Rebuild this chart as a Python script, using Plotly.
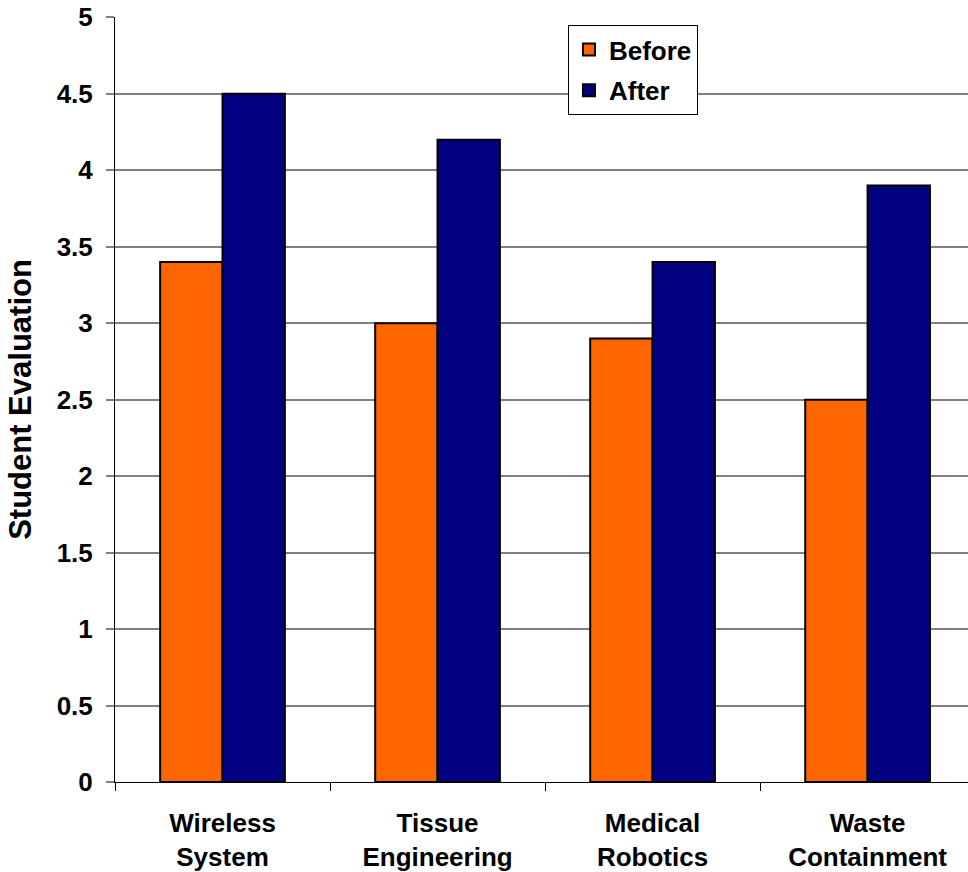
import plotly.graph_objects as go

categories = ["Wireless<br>System", "Tissue<br>Engineering", "Medical<br>Robotics", "Waste<br>Containment"]
before = [3.4, 3.0, 2.9, 2.5]
after = [4.5, 4.2, 3.4, 3.9]
y_ticks = [0, 0.5, 1, 1.5, 2, 2.5, 3, 3.5, 4, 4.5, 5]
y_tick_text = ["0", "0.5", "1", "1.5", "2", "2.5", "3", "3.5", "4", "4.5", "5"]

FONT = "Liberation Sans, Arial, sans-serif"

fig = go.Figure()
fig.add_trace(go.Bar(x=categories, y=before, name="<b>Before</b>", legendgroup="a",
                     marker=dict(color="#FF6600", line=dict(color="black", width=2))))
fig.add_trace(go.Bar(x=categories, y=after, name="<b>After</b>", legendgroup="b",
                     marker=dict(color="#000080", line=dict(color="black", width=2))))

fig.update_layout(
    width=968, height=872,
    margin=dict(l=115, r=0, t=17, b=90),
    paper_bgcolor="white", plot_bgcolor="white",
    font=dict(family=FONT, size=26, color="black"),
    barmode="group", bargap=0.42, bargroupgap=0,
    showlegend=True,
    legend=dict(x=0.531, y=0.9895, xanchor="left", yanchor="top",
                bordercolor="black", borderwidth=1, bgcolor="white",
                font=dict(family=FONT, size=26, color="black"),
                tracegroupgap=4, itemwidth=30),
    xaxis=dict(range=[-0.5, 3.467], showline=True, linecolor="black", linewidth=1,
               ticks="outside", tickson="boundaries", ticklen=8, tickcolor="black",
               tickfont=dict(family=FONT, size=26, color="black"),
               ticklabelstandoff=18, showgrid=False, zeroline=False, automargin=False),
    yaxis=dict(range=[0, 5.002], tickvals=y_ticks, ticktext=["<b>%s</b>" % t for t in y_tick_text],
               showline=True, linecolor="black", linewidth=1,
               ticks="outside", ticklen=8, tickcolor="#808080", tickwidth=2,
               showgrid=True, gridcolor="#808080", gridwidth=2, zeroline=False,
               tickfont=dict(family=FONT, size=26, color="black"), automargin=False,
               ticklabelstandoff=8,
               title=dict(text="<b>Student Evaluation</b>", font=dict(family=FONT, size=31), standoff=15)),
)
fig.update_xaxes(ticktext=["<b>%s</b>" % c for c in categories], tickvals=categories)

fig.write_html("out.html", config={"displayModeBar": False},
               post_script="document.body.style.margin='0';document.body.style.overflow='hidden';")
